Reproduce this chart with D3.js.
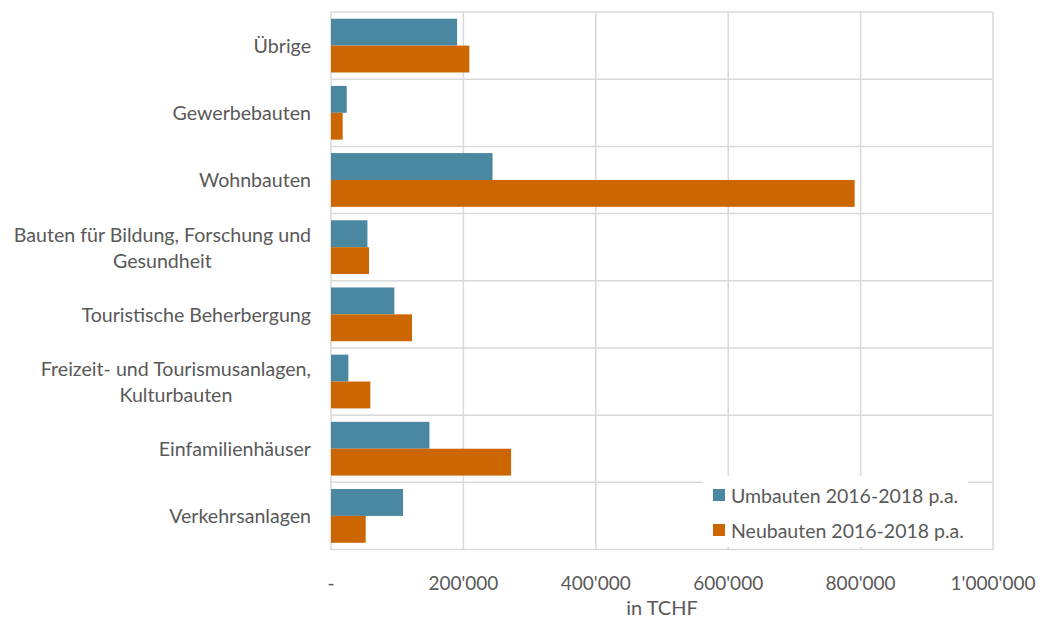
<!DOCTYPE html>
<html>
<head>
<meta charset="utf-8">
<script src="https://cdn.jsdelivr.net/npm/d3@7"></script>
<style>
  html, body { margin: 0; padding: 0; background: #ffffff; }
  svg { display: block; font-family: Lato, "Open Sans", sans-serif; }
</style>
</head>
<body>
<svg id="chart" width="1050" height="621"></svg>
<script>
// Building investment by category (top to bottom), in thousand CHF per year
const categories = [
  ["Übrige"],
  ["Gewerbebauten"],
  ["Wohnbauten"],
  ["Bauten für Bildung, Forschung und", "Gesundheit"],
  ["Touristische Beherbergung"],
  ["Freizeit- und Tourismusanlagen,", "Kulturbauten"],
  ["Einfamilienhäuser"],
  ["Verkehrsanlagen"]
];
const umbauten  = [190500, 23700, 244000, 55000, 95700, 26200, 148700, 108800];
const neubauten = [209000, 17600, 791000, 57400, 122400, 59400, 272000, 52400];
const seriesNames = ["Umbauten 2016-2018 p.a.", "Neubauten 2016-2018 p.a."];
const xTicks = [0, 200000, 400000, 600000, 800000, 1000000];
const axisTitle = "in TCHF";

const colors = ["#4a87a1", "#cc6600"];
const textColor = "#595959";
const gridColor = "#d9d9d9";

const svg = d3.select("#chart");
const plot = { left: 331, right: 993, top: 12, bottom: 549.5 };

const keys = categories.map(c => c.join(" "));
const x = d3.scaleLinear().domain([0, 1000000]).range([plot.left, plot.right]);
const y = d3.scaleBand().domain(keys).range([plot.top, plot.bottom]).padding(0);
const gap = y.bandwidth() * 0.1;
const ySub = d3.scaleBand().domain([0, 1]).range([gap, y.bandwidth() - gap]).padding(0);

const locale = d3.formatLocale({ decimal: ".", thousands: "'", grouping: [3], currency: ["", ""] });
const fmt = v => v === 0 ? "-" : locale.format(",")(v);

// Grid: vertical lines at value ticks, horizontal lines between categories
const grid = svg.append("g");
grid.selectAll("line.v").data(xTicks).join("line")
  .attr("x1", d => x(d)).attr("x2", d => x(d))
  .attr("y1", plot.top).attr("y2", plot.bottom)
  .attr("stroke", gridColor).attr("stroke-width", 1.5);
const bounds = keys.map(k => y(k)).concat([plot.bottom]);
grid.selectAll("line.h").data(bounds).join("line")
  .attr("x1", plot.left).attr("x2", plot.right)
  .attr("y1", d => d).attr("y2", d => d)
  .attr("stroke", gridColor).attr("stroke-width", 1.5);

// Bars
const rows = keys.map((k, i) => ({ key: k, vals: [umbauten[i], neubauten[i]] }));
const g = svg.append("g");
rows.forEach(r => {
  g.selectAll(null).data(r.vals).join("rect")
    .attr("x", x(0))
    .attr("y", (d, j) => y(r.key) + ySub(j))
    .attr("width", d => x(d) - x(0))
    .attr("height", ySub.bandwidth())
    .attr("fill", (d, j) => colors[j]);
});

// Category labels: right-aligned block, multi-line labels centered within it
const labelRight = 311;
const fs = 19.6;
categories.forEach((lines, i) => {
  const cy = y(keys[i]) + y.bandwidth() / 2;
  const lh = 26;
  const t = svg.append("text")
    .attr("fill", textColor).attr("font-size", fs)
    .attr("text-anchor", "middle");
  const spans = lines.map(s => t.append("tspan").text(s));
  const w = d3.max(spans, s => s.node().getComputedTextLength());
  spans.forEach((s, li) => {
    s.attr("x", labelRight - w / 2)
     .attr("y", cy + (li - (lines.length - 1) / 2) * lh)
     .attr("dominant-baseline", "central");
  });
});

// Value axis labels
svg.append("g").selectAll("text").data(xTicks).join("text")
  .attr("x", d => x(d)).attr("y", 582)
  .attr("text-anchor", "middle").attr("dominant-baseline", "central")
  .attr("fill", textColor).attr("font-size", 19)
  .text(fmt);

svg.append("text")
  .attr("x", (plot.left + plot.right) / 2).attr("y", 607)
  .attr("text-anchor", "middle").attr("dominant-baseline", "central")
  .attr("fill", textColor).attr("font-size", 20)
  .text(axisTitle);

// Legend
const lg = svg.append("g").attr("transform", "translate(703,476)");
lg.append("rect").attr("width", 265).attr("height", 71).attr("fill", "#ffffff");
seriesNames.forEach((s, i) => {
  const cy = 19 + i * 35;
  lg.append("rect").attr("x", 10).attr("y", cy - 6).attr("width", 12).attr("height", 12)
    .attr("fill", colors[i]);
  lg.append("text").attr("x", 28).attr("y", cy)
    .attr("dominant-baseline", "central")
    .attr("fill", textColor).attr("font-size", 19.5)
    .text(s);
});
</script>
</body>
</html>
